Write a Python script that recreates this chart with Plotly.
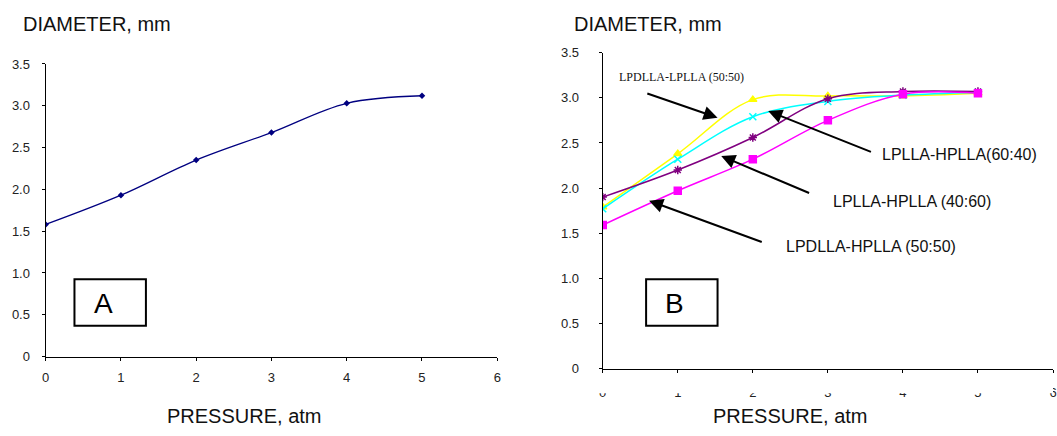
import plotly.graph_objects as go

# Pressure steps (atm)
pressure = [0, 1, 2, 3, 4, 5]

# Panel A: single blend
diameter_a = [1.58, 1.93, 2.35, 2.68, 3.03, 3.12]

# Panel B: four blends
b_names = ["LPDLLA-LPLLA (50:50)", "LPLLA-HPLLA (40:60)",
           "LPLLA-HPLLA(60:40)", "LPDLLA-HPLLA (50:50)"]
b_lpdlla_lplla = [1.79, 2.38, 2.98, 3.02, 3.02, 3.05]
b_cyan = [1.77, 2.32, 2.79, 2.96, 3.03, 3.06]
b_purple = [1.90, 2.20, 2.56, 2.99, 3.07, 3.07]
b_lpdlla_hplla = [1.59, 1.97, 2.32, 2.75, 3.04, 3.05]

y_ticks = [0, 0.5, 1.0, 1.5, 2.0, 2.5, 3.0, 3.5]
y_tick_text = ["0", "0.5", "1.0", "1.5", "2.0", "2.5", "3.0", "3.5"]
x_ticks = [0, 1, 2, 3, 4, 5, 6]

W, H = 1057, 436


def px(x):
    return x / W


def py(y):
    return 1 - y / H


fig = go.Figure()

fig.add_trace(go.Scatter(
    x=pressure, y=diameter_a, mode="lines+markers",
    line=dict(color="#000080", width=1.3, shape="spline"),
    marker=dict(symbol="diamond", size=5, color="#000080"),
    xaxis="x", yaxis="y", showlegend=False))

series_b = [
    (b_lpdlla_lplla, "#FFFF00", "triangle-up"),
    (b_cyan, "#00FFFF", "x-thin-open"),
    (b_purple, "#800080", "asterisk-open"),
    (b_lpdlla_hplla, "#FF00FF", "square"),
]
for vals, col, sym in series_b:
    fig.add_trace(go.Scatter(
        x=pressure, y=vals, mode="lines+markers",
        line=dict(color=col, width=1.5, shape="spline"),
        marker=dict(symbol=sym, size=7, color=col,
                    line=dict(color=col, width=1.5)),
        xaxis="x2", yaxis="y2", showlegend=False))

tick_font = dict(family="Liberation Sans, Arial", size=13, color="#222")
axis_common = dict(showline=True, linecolor="black", linewidth=1.2,
                   ticks="outside", ticklen=3, tickcolor="black",
                   showgrid=False, zeroline=False, tickfont=tick_font)

fig.update_layout(
    width=W, height=H,
    margin=dict(l=0, r=0, t=0, b=0),
    paper_bgcolor="white", plot_bgcolor="white",
    xaxis=dict(domain=[px(42), px(497)], range=[0, 6], tickvals=x_ticks,
               anchor="y", ticklabelstandoff=6, **axis_common),
    yaxis=dict(domain=[py(362), py(59)], range=[0, 3.5], tickvals=y_ticks,
               ticktext=y_tick_text, anchor="x", ticklabelstandoff=9,
               **axis_common),
    xaxis2=dict(domain=[px(603.3), 1.0], range=[0, 6], tickvals=x_ticks,
                anchor="y2", ticklabelstandoff=9, **axis_common),
    yaxis2=dict(domain=[py(374.5), py(47.3)], range=[0, 3.5],
                tickvals=y_ticks, ticktext=y_tick_text, anchor="x2",
                ticklabelstandoff=17, **axis_common),
)

title_font = dict(family="Liberation Sans, Arial", size=20, color="#111")
annotations = [
    dict(text="DIAMETER, mm", x=px(17), y=py(18), xref="paper", yref="paper",
         xanchor="left", yanchor="middle", showarrow=False, font=title_font),
    dict(text="DIAMETER, mm", x=px(572), y=py(18), xref="paper", yref="paper",
         xanchor="left", yanchor="middle", showarrow=False, font=title_font),
    dict(text="PRESSURE, atm", x=px(162), y=py(424), xref="paper", yref="paper",
         xanchor="left", yanchor="middle", showarrow=False, font=title_font),
    dict(text="PRESSURE, atm", x=px(712), y=py(424), xref="paper", yref="paper",
         xanchor="left", yanchor="middle", showarrow=False, font=title_font),
    dict(text="A", x=px(100), y=py(307), xref="paper", yref="paper",
         xanchor="center", yanchor="middle", showarrow=False,
         font=dict(family="Liberation Sans, Arial", size=28, color="black")),
    dict(text="B", x=px(676), y=py(307), xref="paper", yref="paper",
         xanchor="center", yanchor="middle", showarrow=False,
         font=dict(family="Liberation Sans, Arial", size=28, color="black")),
]

label_font = dict(family="Liberation Sans, Arial", size=16, color="#111")
# Series labels in panel B
annotations += [
    dict(text=b_names[0], x=0.19, y=3.235, xref="x2", yref="y2",
         xanchor="left", yanchor="middle", showarrow=False,
         font=dict(family="Liberation Serif, Times New Roman", size=12,
                   color="#111")),
    dict(text=b_names[2], x=3.69, y=2.372, xref="x2", yref="y2",
         xanchor="left", yanchor="middle", showarrow=False, font=label_font),
    dict(text=b_names[1], x=3.045, y=1.856, xref="x2", yref="y2",
         xanchor="left", yanchor="middle", showarrow=False, font=label_font),
    dict(text=b_names[3], x=2.41, y=1.353, xref="x2", yref="y2",
         xanchor="left", yanchor="middle", showarrow=False, font=label_font),
]

# Pointer arrows: (tip x, tip y, tail x, tail y)
arrows = [
    (1.53, 2.779, 0.574, 3.053),
    (2.205, 2.853, 3.594, 2.394),
    (1.579, 2.355, 2.770, 1.938),
    (0.618, 1.859, 2.139, 1.396),
]
for tx, ty, sx, sy in arrows:
    annotations.append(dict(
        x=tx, y=ty, ax=sx, ay=sy, xref="x2", yref="y2", axref="x2",
        ayref="y2", text="", showarrow=True, arrowhead=2, arrowsize=1.4,
        arrowwidth=2, arrowcolor="black", standoff=0))

fig.update_layout(annotations=annotations)

shapes = [
    dict(type="rect", xref="paper", yref="paper", x0=px(71), x1=px(143),
         y0=py(330), y1=py(282), line=dict(color="black", width=2)),
    dict(type="rect", xref="paper", yref="paper", x0=px(647), x1=px(719),
         y0=py(330), y1=py(282), line=dict(color="black", width=2)),
    # lower edge of panel B is cut off just under its tick labels
    dict(type="rect", xref="paper", yref="paper", x0=px(555), x1=1.0,
         y0=py(400), y1=py(390), line=dict(width=0), fillcolor="white",
         layer="above"),
]
fig.update_layout(shapes=shapes)

fig.write_html("out.html")
